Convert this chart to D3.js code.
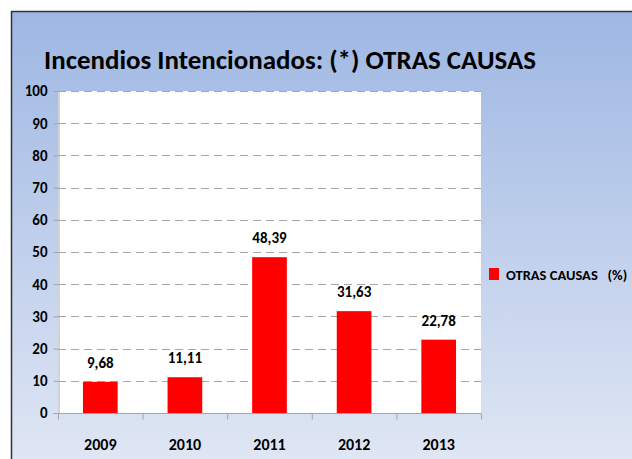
<!DOCTYPE html>
<html><head><meta charset="utf-8">
<script src="https://cdn.jsdelivr.net/npm/d3@7"></script>
<style>body{margin:0;background:#fff}svg{display:block}</style>
</head><body>
<script>
const years = ["2009","2010","2011","2012","2013"];
const values = [9.68, 11.11, 48.39, 31.63, 22.78];
const labels = ["9,68","11,11","48,39","31,63","22,78"];
const yTicks = [0,10,20,30,40,50,60,70,80,90,100];
const seriesName = "OTRAS CAUSAS   (%)";
const title = "Incendios Intencionados:  (*) OTRAS CAUSAS";

const W = 632, H = 459;
const font = "Carlito, 'Open Sans', 'Liberation Sans', sans-serif";
const svg = d3.select("body").append("svg").attr("width", W).attr("height", H);
const defs = svg.append("defs");
const g = defs.append("linearGradient").attr("id","bg").attr("x1",0).attr("y1",0).attr("x2",0).attr("y2",1);
g.append("stop").attr("offset","0%").attr("stop-color","#9EB7E3");
g.append("stop").attr("offset","100%").attr("stop-color","#DFE6F4");

svg.append("rect").attr("x",11).attr("y",11).attr("width",W-11).attr("height",H-11).attr("fill","url(#bg)");
svg.append("line").attr("x1",11).attr("x2",W).attr("y1",11.5).attr("y2",11.5).attr("stroke","#333").attr("stroke-width",1.5);
svg.append("line").attr("x1",11.5).attr("x2",11.5).attr("y1",11).attr("y2",H).attr("stroke","#333").attr("stroke-width",1.5);

const L = 58, R = 481, T = 91, B = 413;
const x = d3.scaleBand().domain(years).range([L, R]).paddingInner(0.59).paddingOuter(0.295);
const xb = d3.scaleBand().domain(years).range([L, R]);
const y = d3.scaleLinear().domain([0,100]).range([B, T]);

svg.append("rect").attr("x",L).attr("y",T).attr("width",R-L).attr("height",B-T).attr("fill","#fff");

// gridlines
svg.append("g").selectAll("line").data(yTicks.filter(d=>d>0)).join("line")
  .attr("x1",L).attr("x2",R).attr("y1",d=>Math.round(y(d))+0.5).attr("y2",d=>Math.round(y(d))+0.5)
  .attr("stroke","#A6A6A6").attr("stroke-width",1).attr("stroke-dasharray","8,5");

// y axis
const yAxis = d3.axisLeft(y).tickValues(yTicks).tickSize(5).tickPadding(6).tickFormat(d3.format("d"));
const ya = svg.append("g").attr("transform",`translate(${L+0.5},0)`).call(yAxis);
ya.select(".domain").attr("stroke","#A6A6A6");
ya.selectAll(".tick line").attr("stroke","#A6A6A6");
ya.selectAll(".tick text").attr("font-family",font).attr("font-size",15).attr("font-weight","bold").attr("fill","#000");

// x axis
const xa = svg.append("g").attr("transform",`translate(0,${B+0.5})`);
xa.append("line").attr("x1",L).attr("x2",R).attr("stroke","#A6A6A6");
xa.selectAll(".t").data([...years.map(d=>xb(d)), R]).join("line").attr("class","t")
  .attr("x1",d=>d+0.5).attr("x2",d=>d+0.5).attr("y1",0).attr("y2",6).attr("stroke","#A6A6A6");
xa.selectAll("text").data(years).join("text")
  .attr("x",d=>xb(d)+xb.bandwidth()/2).attr("y",36).attr("text-anchor","middle")
  .attr("font-family",font).attr("font-size",16).attr("font-weight","bold").attr("fill","#000").text(d=>d);

// bars
svg.append("g").selectAll("rect").data(values).join("rect")
  .attr("x",(d,i)=>x(years[i])).attr("width",x.bandwidth())
  .attr("y",d=>y(d)).attr("height",d=>B-y(d)).attr("fill","#FF0000");

svg.append("g").selectAll("text").data(values).join("text")
  .attr("x",(d,i)=>x(years[i])+x.bandwidth()/2).attr("y",d=>y(d)-14)
  .attr("text-anchor","middle").attr("font-family",font).attr("font-size",15).attr("font-weight","bold").attr("fill","#000")
  .text((d,i)=>labels[i]);

// title
svg.append("text").attr("x",44).attr("y",69).attr("font-family",font).attr("font-size",27).attr("font-weight","bold")
  .attr("fill","#000").attr("textLength",492).attr("lengthAdjust","spacingAndGlyphs").text(title);

// legend
svg.append("rect").attr("x",489).attr("y",268).attr("width",10).attr("height",12).attr("fill","#FF0000");
svg.append("text").attr("x",506).attr("y",280).attr("font-family",font).attr("font-size",14.5).attr("font-weight","bold")
  .attr("fill","#000").style("white-space","pre").text(seriesName);
</script>
</body></html>
